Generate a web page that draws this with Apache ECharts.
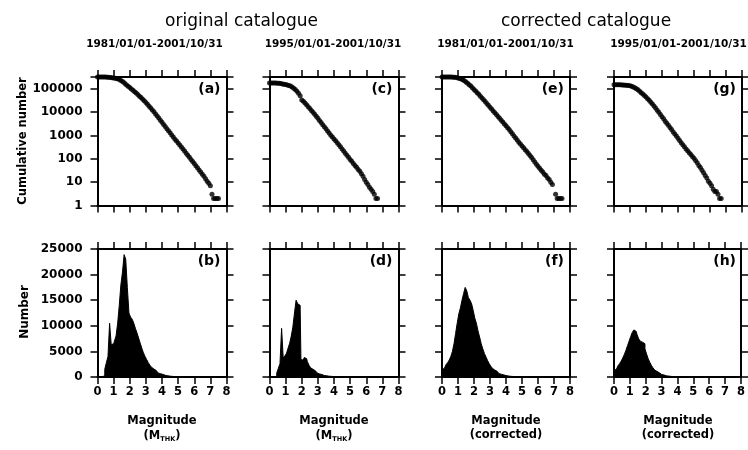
<!DOCTYPE html>
<html>
<head>
<meta charset="utf-8">
<script src="https://cdn.jsdelivr.net/npm/echarts@6/dist/echarts.min.js"></script>
<style>
  html, body { margin: 0; padding: 0; background: #fff; }
  #chart { width: 748px; height: 450px; }
</style>
</head>
<body>
<div id="chart"></div>
<script>
// Magnitude bins (0.1 steps)
const MAG = [0.0,0.1,0.2,0.3,0.4,0.5,0.6,0.7,0.8,0.9,1.0,1.1,1.2,1.3,1.4,1.5,1.6,1.7,1.8,1.9,
  2.0,2.1,2.2,2.3,2.4,2.5,2.6,2.7,2.8,2.9,3.0,3.1,3.2,3.3,3.4,3.5,3.6,3.7,3.8,3.9,
  4.0,4.1,4.2,4.3,4.4,4.5,4.6,4.7,4.8,4.9,5.0,5.1,5.2,5.3,5.4,5.5,5.6,5.7,5.8,5.9,
  6.0,6.1,6.2,6.3,6.4,6.5,6.6,6.7,6.8,6.9,7.0,7.1,7.2,7.3,7.4,7.5];

// (a) original catalogue 1981-2001: cumulative number N(>=M)
const CUM_A = [316000,316000,316000,316000,316000,316000,309000,309000,302000,295000,
  288000,282000,269000,257000,234000,214000,191000,166000,145000,126000,
  112000,97700,85100,74100,64600,56200,47900,41700,35500,30200,
  25700,21400,17800,14800,12300,10200,8320,6760,5500,4470,
  3630,2950,2400,1950,1580,1290,1050,851,692,575,
  468,389,316,263,214,174,141,115,93,76,
  62,50,41,33,27,22,18,14,11,9,
  7,3,2,2,2,2];

// (b) original catalogue 1981-2001: events per 0.1 bin
const HIST_B = [0,0,0,0,300,1500,2800,4000,10500,6300,
  6500,7000,8000,10500,14000,18000,20500,23900,23000,17500,
  12500,11700,11300,10500,9500,8600,7600,6600,5600,4700,
  4000,3400,2800,2300,1900,1550,1250,1000,800,650,
  520,420,330,260,200,160,120,95,75,60,
  45,35,27,20,15,11,0];

// (c) original catalogue 1995-2001: cumulative number
const CUM_C = [174000,174000,174000,174000,174000,170000,170000,166000,158000,155000,
  151000,145000,138000,129000,117000,105000,91200,77600,63100,50100,
  33100,28800,24500,20400,17000,14100,11700,9770,8130,6610,
  5370,4370,3550,2880,2340,1910,1550,1260,1020,851,
  708,589,490,398,324,263,214,174,141,115,
  93,78,63,52,43,35,29,23,18,13,
  10,8,6,5,4,3,2,2];

// (d) original catalogue 1995-2001: events per 0.1 bin
const HIST_D = [0,0,0,0,200,800,1700,2600,9500,3700,
  4100,4600,5600,6600,8000,9800,12500,15000,14300,14000,
  3400,3300,3800,3600,3000,2300,1800,1500,1200,1000,
  800,600,480,380,300,240,190,150,120,95,
  75,60,45,35,28,22,17,13,10,8,6,0];

// (e) corrected catalogue 1981-2001: cumulative number
const CUM_E = [316000,316000,316000,316000,316000,316000,316000,309000,309000,302000,
  288000,275000,257000,240000,219000,195000,170000,148000,129000,110000,
  93300,79400,67600,57500,47900,39800,33900,28200,23400,19500,
  16200,13500,11200,9330,7760,6460,5370,4470,3720,3090,
  2570,2140,1780,1450,1170,955,776,631,513,427,
  355,295,245,204,170,138,112,91,72,59,
  48,39,32,27,22,19,15,13,10,8,
  null,3,2,2,2,2];

// (f) corrected catalogue 1981-2001: events per 0.1 bin
const HIST_F = [1400,1700,2000,2400,2800,3300,4000,5000,6500,8500,
  10500,12300,13500,15000,16300,17500,16800,15500,15000,14300,
  13000,11500,10500,9000,7800,6500,5500,4600,3900,3200,
  2600,2100,1700,1350,1100,850,680,540,430,340,
  270,210,170,130,100,80,62,48,37,28,
  21,16,12,9,7,5,0];

// (g) corrected catalogue 1995-2001: cumulative number
const CUM_G = [148000,148000,148000,148000,148000,145000,145000,141000,141000,138000,
  132000,126000,117000,110000,100000,89100,77600,67600,58900,51300,
  43600,37200,31600,26300,21900,18200,14800,12000,9770,7940,
  6310,5130,4070,3310,2690,2190,1780,1410,1150,933,
  759,603,490,398,324,263,219,182,151,126,
  105,85,68,52,42,32,25,19,15,11,
  9,7,5,4,4,3,2,2];

// (h) corrected catalogue 1995-2001: events per 0.1 bin
const HIST_H = [1300,1500,1800,2200,2600,3100,3700,4400,5200,6100,
  7000,7900,8700,9200,8900,8300,7500,7000,6800,6500,
  5500,4500,3600,2900,2300,1800,1400,1100,850,650,
  500,390,300,230,180,140,110,85,65,50,
  40,30,23,17,13,10,0];

const GROUP_TITLES = ['original catalogue', 'corrected catalogue'];
const PERIODS = ['1981/01/01-2001/10/31', '1995/01/01-2001/10/31', '1981/01/01-2001/10/31', '1995/01/01-2001/10/31'];
const TOP_LETTERS = ['(a)', '(c)', '(e)', '(g)'];
const BOTTOM_LETTERS = ['(b)', '(d)', '(f)', '(h)'];
const MAG_SCALE = ['THK', 'THK', 'corrected', 'corrected'];
const Y_NAMES = ['Cumulative number', 'Number'];

const CUMULATIVE = [CUM_A, CUM_C, CUM_E, CUM_G];
const HISTOGRAMS = [HIST_B, HIST_D, HIST_F, HIST_H];

// ---- layout ----
const FONT = '"DejaVu Sans", sans-serif';
const COLS = [
  { left: 97.5, width: 129 },
  { left: 269.5, width: 129 },
  { left: 442, width: 128 },
  { left: 614, width: 128 }
];
const ROWS = [
  { top: 77, height: 128.5 },
  { top: 249, height: 128 }
];

const frameLine = { show: true, onZero: false, lineStyle: { color: '#000', width: 2 } };
const outTick = { show: true, inside: false, length: 7, lineStyle: { color: '#000', width: 1.5 } };

function toPairs(vals) {
  const out = [];
  vals.forEach((v, i) => { if (v != null) out.push([MAG[i], v]); });
  return out;
}

function isDecade(v) {
  const l = Math.log10(v);
  return Math.abs(l - Math.round(l)) < 1e-6 && v < 200000;
}

const grid = [], xAxis = [], yAxis = [], series = [], graphic = [];

for (let r = 0; r < 2; r++) {
  for (let c = 0; c < 4; c++) {
    const g = r * 4 + c;
    grid.push({ left: COLS[c].left, width: COLS[c].width, top: ROWS[r].top, height: ROWS[r].height, containLabel: false });

    const xBase = {
      gridIndex: g, type: 'value', min: 0, max: 8, interval: 1,
      axisLine: frameLine, axisTick: outTick, splitLine: { show: false }, minorTick: { show: false }
    };
    xAxis.push(Object.assign({}, xBase, {
      position: 'bottom',
      axisLabel: { show: r === 1, margin: 9, color: '#000', fontFamily: FONT, fontWeight: 'bold', fontSize: 11.5 }
    }));
    xAxis.push(Object.assign({}, xBase, { position: 'top', axisLabel: { show: false } }));

    let yBase;
    if (r === 0) {
      yBase = {
        gridIndex: g, type: 'log', logBase: 10, min: 1, max: Math.pow(10, 5.5),
        axisLine: frameLine, axisTick: outTick, splitLine: { show: false }, minorTick: { show: false }
      };
    } else {
      yBase = {
        gridIndex: g, type: 'value', min: 0, max: 25000, interval: 5000,
        axisLine: frameLine, axisTick: outTick, splitLine: { show: false }, minorTick: { show: false }
      };
    }
    yAxis.push(Object.assign({}, yBase, {
      position: 'left',
      axisLabel: {
        show: c === 0, margin: 15, color: '#000', fontFamily: FONT, fontWeight: 'bold', fontSize: 12,
        showMaxLabel: true, showMinLabel: true,
        formatter: r === 0 ? (v => isDecade(v) ? String(Math.round(v)) : '') : (v => String(v))
      }
    }));
    yAxis.push(Object.assign({}, yBase, { position: 'right', axisLabel: { show: false } }));

    if (r === 0) {
      series.push({
        type: 'scatter', xAxisIndex: 2 * g, yAxisIndex: 2 * g,
        data: toPairs(CUMULATIVE[c]), symbol: 'circle', symbolSize: 5,
        itemStyle: { color: '#000' }, silent: true, z: 1
      });
    } else {
      series.push({
        type: 'line', xAxisIndex: 2 * g, yAxisIndex: 2 * g,
        data: toPairs(HISTOGRAMS[c]), step: 'middle', symbol: 'none', showSymbol: false,
        lineStyle: { color: '#000', width: 1 }, areaStyle: { color: '#000', opacity: 1 },
        silent: true, z: 1
      });
    }

    // panel letter
    graphic.push({
      type: 'text', x: COLS[c].left + COLS[c].width - 6, y: ROWS[r].top + 12.5,
      style: { text: r === 0 ? TOP_LETTERS[c] : BOTTOM_LETTERS[c], align: 'right', verticalAlign: 'middle',
        font: 'bold 14px ' + FONT, fill: '#000' }
    });
  }
}

// group titles and periods
const titleX = [241.5, 586];
GROUP_TITLES.forEach((t, i) => {
  graphic.push({ type: 'text', x: titleX[i], y: 22,
    style: { text: t, align: 'center', verticalAlign: 'middle', font: '17px ' + FONT, fill: '#000' } });
});
const periodX = [154.5, 333, 505.5, 678.5];
PERIODS.forEach((t, i) => {
  graphic.push({ type: 'text', x: periodX[i], y: 44,
    style: { text: t, align: 'center', verticalAlign: 'middle', font: 'bold 10.5px ' + FONT, fill: '#000' } });
});

// y axis names
graphic.push({ type: 'text', x: 23, y: 141, rotation: Math.PI / 2,
  style: { text: Y_NAMES[0], align: 'center', verticalAlign: 'middle', font: 'bold 11.5px ' + FONT, fill: '#000' } });
graphic.push({ type: 'text', x: 25, y: 312, rotation: Math.PI / 2,
  style: { text: Y_NAMES[1], align: 'center', verticalAlign: 'middle', font: 'bold 12px ' + FONT, fill: '#000' } });

// x axis names under the histograms
MAG_SCALE.forEach((s, c) => {
  const cx = COLS[c].left + COLS[c].width / 2;
  graphic.push({ type: 'text', x: cx, y: 421.5,
    style: { text: 'Magnitude', align: 'center', verticalAlign: 'middle', font: 'bold 11.5px ' + FONT, fill: '#000' } });
  if (s === 'THK') {
    graphic.push({ type: 'text', x: cx, y: 436.5,
      style: {
        text: '{p|(M}{s|THK}{p|)}', align: 'center', verticalAlign: 'middle', fill: '#000',
        rich: {
          p: { font: 'bold 11.5px ' + FONT, fill: '#000' },
          s: { font: 'bold 6.5px ' + FONT, fill: '#000', verticalAlign: 'bottom', padding: [3, 0, 0, 0] }
        }
      }
    });
  } else {
    graphic.push({ type: 'text', x: cx, y: 435.5,
      style: { text: '(' + s + ')', align: 'center', verticalAlign: 'middle', font: 'bold 11.5px ' + FONT, fill: '#000' } });
  }
});

const chart = echarts.init(document.getElementById('chart'), null, { renderer: 'canvas' });
chart.setOption({
  animation: false,
  backgroundColor: '#fff',
  grid: grid,
  xAxis: xAxis,
  yAxis: yAxis,
  series: series,
  graphic: graphic
});
</script>
</body>
</html>
